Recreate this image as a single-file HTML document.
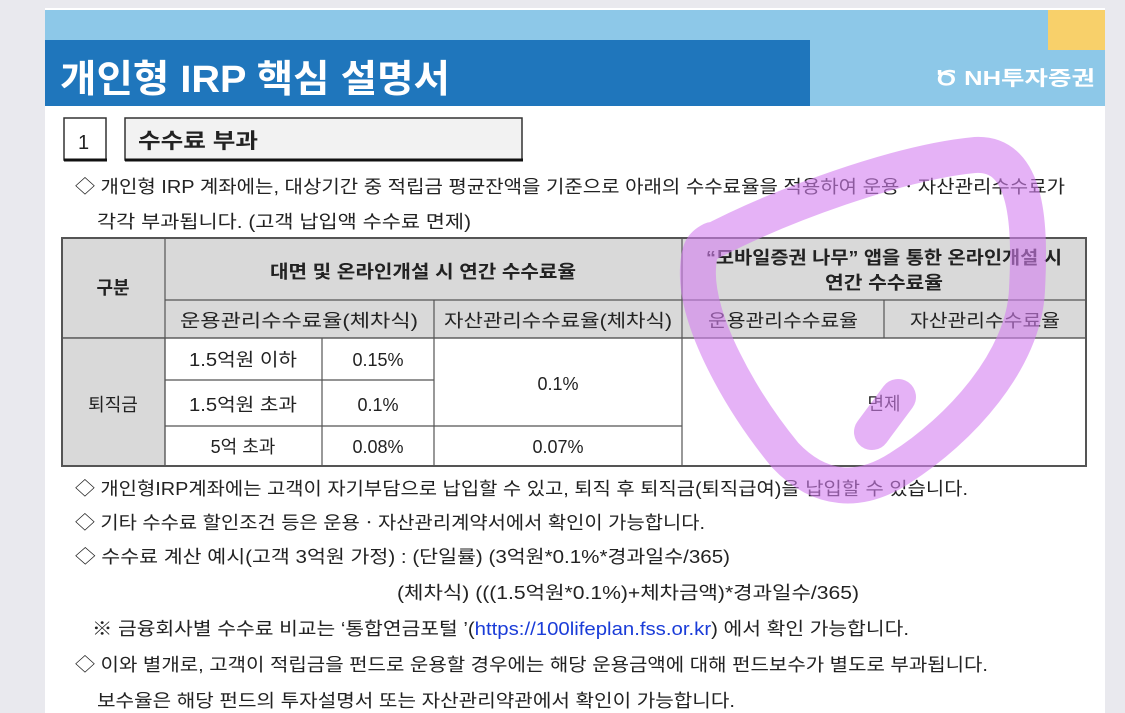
<!DOCTYPE html>
<html><head><meta charset="utf-8"><style>
html,body{margin:0;padding:0;width:1125px;height:713px;overflow:hidden;background:#e9e9ee}
svg{display:block}
text{font-family:"Liberation Sans","Noto Sans CJK KR",sans-serif;fill:#222}
</style></head><body>
<svg width="1125" height="713" viewBox="0 0 1125 713">
<rect x="45" y="8" width="1060" height="705" fill="#fff"/>
<rect x="45" y="10" width="1060" height="96" fill="#8dc8e8"/>
<rect x="1048" y="10" width="57" height="40" fill="#f8d06a"/>
<rect x="45" y="40" width="765" height="66" fill="#1f76bc"/>
<text x="60" y="92" font-size="38" font-weight="bold" style="fill:#fff" textLength="390" lengthAdjust="spacingAndGlyphs">개인형 IRP 핵심 설명서</text>
<text x="935" y="85" font-size="20" font-weight="bold" style="fill:#fff" textLength="160" lengthAdjust="spacingAndGlyphs">Ծ NH투자증권</text>

<rect x="64" y="118" width="42" height="42" fill="#fff" stroke="#333" stroke-width="1.5"/>
<line x1="64" y1="160" x2="107" y2="160" stroke="#111" stroke-width="3"/>
<text x="78" y="149" font-size="20">1</text>
<rect x="125" y="118" width="397" height="42" fill="#f2f2f2" stroke="#333" stroke-width="1.5"/>
<line x1="125" y1="160" x2="523" y2="160" stroke="#111" stroke-width="3"/>
<text x="138" y="148" font-size="21" font-weight="bold" textLength="120" lengthAdjust="spacingAndGlyphs">수수료 부과</text>

<text x="75" y="193" font-size="18" textLength="990" lengthAdjust="spacingAndGlyphs">◇ 개인형 IRP 계좌에는, 대상기간 중 적립금 평균잔액을 기준으로 아래의 수수료율을 적용하여 운용ㆍ자산관리수수료가</text>
<text x="97" y="228" font-size="18" textLength="374" lengthAdjust="spacingAndGlyphs">각각 부과됩니다. (고객 납입액 수수료 면제)</text>

<g stroke="#555" stroke-width="1.2">
<rect x="62" y="238" width="1024" height="100" fill="#d9d9d9"/>
<rect x="62" y="338" width="103" height="128" fill="#d9d9d9"/>
<rect x="62" y="238" width="1024" height="228" fill="none" stroke-width="2"/>
<line x1="165" y1="238" x2="165" y2="466"/>
<line x1="682" y1="238" x2="682" y2="466"/>
<line x1="165" y1="300" x2="1086" y2="300"/>
<line x1="434" y1="300" x2="434" y2="466"/>
<line x1="884" y1="300" x2="884" y2="338"/>
<line x1="62" y1="338" x2="1086" y2="338"/>
<line x1="322" y1="338" x2="322" y2="466"/>
<line x1="165" y1="380" x2="434" y2="380"/>
<line x1="165" y1="426" x2="682" y2="426"/>
</g>
<g font-size="18" text-anchor="middle">
<text x="113" y="294" font-weight="bold">구분</text>
<text x="423" y="278" font-weight="bold" textLength="306" lengthAdjust="spacingAndGlyphs">대면 및 온라인개설 시 연간 수수료율</text>
<text x="884" y="264" font-weight="bold" textLength="356" lengthAdjust="spacingAndGlyphs">“모바일증권 나무” 앱을 통한 온라인개설 시</text>
<text x="884" y="289" font-weight="bold" textLength="118" lengthAdjust="spacingAndGlyphs">연간 수수료율</text>
<text x="299" y="327" textLength="238" lengthAdjust="spacingAndGlyphs">운용관리수수료율(체차식)</text>
<text x="558" y="327" textLength="228" lengthAdjust="spacingAndGlyphs">자산관리수수료율(체차식)</text>
<text x="783" y="327" textLength="150" lengthAdjust="spacingAndGlyphs">운용관리수수료율</text>
<text x="985" y="327" textLength="150" lengthAdjust="spacingAndGlyphs">자산관리수수료율</text>
<text x="113" y="411">퇴직금</text>
<text x="243" y="366" textLength="108" lengthAdjust="spacingAndGlyphs">1.5억원 이하</text>
<text x="378" y="366">0.15%</text>
<text x="243" y="411" textLength="108" lengthAdjust="spacingAndGlyphs">1.5억원 초과</text>
<text x="378" y="411">0.1%</text>
<text x="243" y="453">5억 초과</text>
<text x="378" y="453">0.08%</text>
<text x="558" y="390">0.1%</text>
<text x="558" y="453">0.07%</text>
<text x="884" y="410">면제</text>
</g>

<g font-size="18">
<text x="75" y="495" textLength="893" lengthAdjust="spacingAndGlyphs">◇ 개인형IRP계좌에는 고객이 자기부담으로 납입할 수 있고, 퇴직 후 퇴직금(퇴직급여)을 납입할 수 있습니다.</text>
<text x="75" y="529" textLength="630" lengthAdjust="spacingAndGlyphs">◇ 기타 수수료 할인조건 등은 운용ㆍ자산관리계약서에서 확인이 가능합니다.</text>
<text x="75" y="563" textLength="655" lengthAdjust="spacingAndGlyphs">◇ 수수료 계산 예시(고객 3억원 가정) : (단일률) (3억원*0.1%*경과일수/365)</text>
<text x="397" y="599" textLength="462" lengthAdjust="spacingAndGlyphs">(체차식) (((1.5억원*0.1%)+체차금액)*경과일수/365)</text>
<text x="92" y="635" textLength="817" lengthAdjust="spacingAndGlyphs">※ 금융회사별 수수료 비교는 ‘통합연금포털 ’(<tspan style="fill:#1a3cd8">https://100lifeplan.fss.or.kr</tspan>) 에서 확인 가능합니다.</text>
<text x="75" y="671" textLength="913" lengthAdjust="spacingAndGlyphs">◇ 이와 별개로, 고객이 적립금을 펀드로 운용할 경우에는 해당 운용금액에 대해 펀드보수가 별도로 부과됩니다.</text>
<text x="97" y="707" textLength="638" lengthAdjust="spacingAndGlyphs">보수율은 해당 펀드의 투자설명서 또는 자산관리약관에서 확인이 가능합니다.</text>
</g>

<g fill="none" stroke="#d37ef0" stroke-opacity="0.6" stroke-width="36" stroke-linecap="round" stroke-linejoin="round">
<path d="M705,245 C780,205 900,162 975,155 C1030,152 1030,230 1027,290 C1024,360 960,430 900,468 C860,494 820,492 785,455 C740,400 695,320 698,268 C699,250 702,245 712,240"/>
<path d="M898,397 L872,432"/>
</g>
</svg>
</body></html>
